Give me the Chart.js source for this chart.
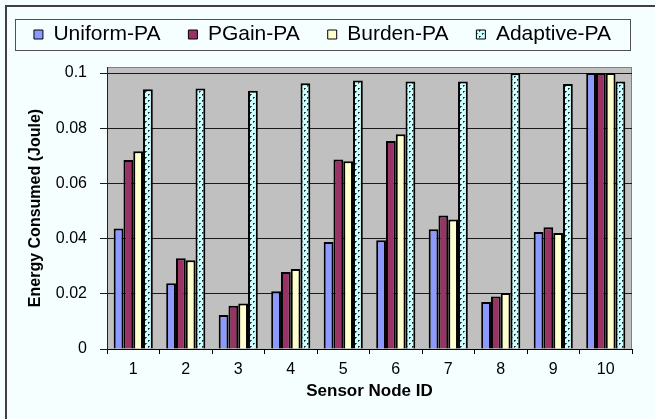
<!DOCTYPE html>
<html>
<head>
<meta charset="utf-8">
<script src="https://cdn.jsdelivr.net/npm/chart.js@4.4.1/dist/chart.umd.min.js"></script>
<style>
  html, body { margin: 0; padding: 0; background: #F6FFFF; }
  #wrap { width: 655px; height: 419px; position: relative; }
</style>
</head>
<body>
<div id="wrap"><canvas id="chart" width="655" height="419"></canvas></div>
<script>
// Energy consumed per sensor node for each power-allocation scheme
const nodeIds = ['1', '2', '3', '4', '5', '6', '7', '8', '9', '10'];
const seriesNames = ['Uniform-PA', 'PGain-PA', 'Burden-PA', 'Adaptive-PA'];
const uniformPA  = [0.0437, 0.0238, 0.0123, 0.0209, 0.0388, 0.0394, 0.0434, 0.0170, 0.0424, 0.1000];
const pgainPA    = [0.0685, 0.0329, 0.0157, 0.0279, 0.0687, 0.0754, 0.0484, 0.0190, 0.0441, 0.1000];
const burdenPA   = [0.0717, 0.0322, 0.0165, 0.0290, 0.0680, 0.0778, 0.0469, 0.0203, 0.0420, 0.1000];
const adaptivePA = [0.0941, 0.0944, 0.0936, 0.0963, 0.0973, 0.0969, 0.0969, 0.0999, 0.0960, 0.0969];
const yTickValues = [0, 0.02, 0.04, 0.06, 0.08, 0.1];
const yTickLabels = ['0', '0.02', '0.04', '0.06', '0.08', '0.1'];

const FONT = "'Liberation Sans', Arial, Helvetica, sans-serif";
Chart.defaults.font.family = FONT;
Chart.defaults.color = '#000';

// dotted fill for the Adaptive-PA bars
function dottedPattern() {
  const tile = document.createElement('canvas');
  tile.width = 6; tile.height = 6;
  const t = tile.getContext('2d');
  t.fillStyle = '#CCFFFF';
  t.fillRect(0, 0, 6, 6);
  t.fillStyle = '#4f6464';
  t.fillRect(1, 1, 2, 1);
  t.fillRect(1, 2, 1, 1);
  t.fillRect(4, 4, 2, 1);
  t.fillRect(4, 5, 1, 1);
  t.fillStyle = '#1a2020';
  t.fillRect(1, 1, 1, 1);
  t.fillRect(4, 4, 1, 1);
  return document.getElementById('chart').getContext('2d').createPattern(tile, 'repeat');
}

const seriesValues = [uniformPA, pgainPA, burdenPA, adaptivePA];
const seriesFills = ['#8C9AFF', '#993366', '#FFFFCC', dottedPattern()];

// page frame, legend box and grey plot background
const framePlugin = {
  id: 'framePlugin',
  beforeInit(chart) {
    const lg = chart.legend;
    const fit = lg.fit;
    lg.fit = function () { fit.call(this); this.height = 67; };
    const draw = lg.draw;
    lg.draw = function () {
      const c = this.ctx;
      c.save();
      c.translate(-5, -4);
      draw.apply(this, arguments);
      c.restore();
    };
  },
  beforeDraw(chart) {
    const ctx = chart.ctx;
    const ca = chart.chartArea;
    ctx.save();
    ctx.fillStyle = '#F6FFFF';
    ctx.fillRect(0, 0, chart.width, chart.height);
    // outer frame (left and top edges)
    ctx.fillStyle = '#404040';
    ctx.fillRect(5, 5, 2, chart.height - 5);
    ctx.fillRect(5, 5, chart.width - 5, 2);
    // legend border
    ctx.strokeStyle = '#505050';
    ctx.lineWidth = 1;
    ctx.strokeRect(15.5, 19.5, 615, 31);
    // plot area
    ctx.fillStyle = '#C0C0C0';
    ctx.fillRect(ca.left, ca.top, ca.right - ca.left, ca.bottom - ca.top);
    ctx.strokeStyle = '#808080';
    ctx.strokeRect(ca.left + 0.5, ca.top + 0.5, ca.right - ca.left - 1, ca.bottom - ca.top);
    ctx.restore();
  }
};

new Chart(document.getElementById('chart'), {
  type: 'bar',
  data: {
    labels: nodeIds,
    datasets: seriesNames.map((name, i) => ({
      label: name,
      data: seriesValues[i],
      backgroundColor: seriesFills[i],
      borderColor: '#000',
      borderWidth: 2,
      categoryPercentage: 0.745,
      barPercentage: 1.0
    }))
  },
  options: {
    responsive: false,
    animation: false,
    devicePixelRatio: 1,
    layout: { padding: 0 },
    plugins: {
      tooltip: { enabled: false },
      legend: {
        display: true,
        position: 'top',
        align: 'center',
        labels: {
          boxWidth: 9,
          boxHeight: 9,
          padding: 28,
          color: '#000',
          font: { family: FONT, size: 21 },
          generateLabels(chart) {
            const items = Chart.defaults.plugins.legend.labels.generateLabels(chart);
            items.forEach(it => { it.lineWidth = 1; it.strokeStyle = '#000'; });
            return items;
          }
        }
      }
    },
    scales: {
      x: {
        afterFit(s) { s.height = 70; },
        grid: { display: true, drawOnChartArea: false, drawTicks: true, tickLength: 5, color: '#000', offset: true },
        border: { display: true, color: '#000', width: 1 },
        ticks: { color: '#000', padding: 6, font: { family: FONT, size: 16 } },
        title: {
          display: true,
          text: 'Sensor Node ID',
          color: '#000',
          font: { family: FONT, size: 17, weight: 'bold' },
          padding: { top: 0, bottom: 17 }
        }
      },
      y: {
        min: 0,
        max: 0.1022,
        afterFit(s) { s.width = 107; },
        afterBuildTicks(s) { s.ticks = yTickValues.map(v => ({ value: v })); },
        grid: { color: '#1a1a1a', lineWidth: 1, drawTicks: true, tickLength: 7 },
        border: { display: true, color: '#222', width: 1 },
        ticks: {
          color: '#000',
          padding: 13,
          font: { family: FONT, size: 16 },
          callback: (value, index) => yTickLabels[index]
        },
        title: {
          display: true,
          text: 'Energy Consumed (Joule)',
          color: '#000',
          font: { family: FONT, size: 16, weight: 'bold' },
          padding: { top: 26, bottom: 0 }
        }
      },
      yRight: {
        type: 'linear',
        position: 'right',
        display: true,
        afterFit(s) { s.width = 23; },
        grid: { display: false },
        border: { display: false },
        ticks: { display: false }
      }
    }
  },
  plugins: [framePlugin]
});
</script>
</body>
</html>
